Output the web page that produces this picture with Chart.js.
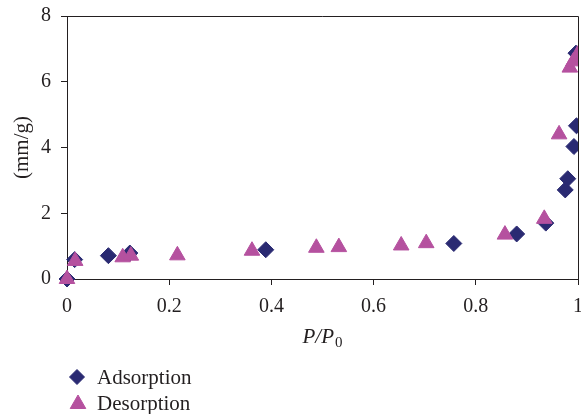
<!DOCTYPE html>
<html>
<head>
<meta charset="utf-8">
<script src="https://cdn.jsdelivr.net/npm/chart.js@4.4.0/dist/chart.umd.min.js"></script>
<style>
  html, body { margin: 0; padding: 0; background: #fff; }
  canvas { display: block; }
</style>
</head>
<body>
<canvas id="chart" width="581" height="414"></canvas>
<script>
// values
const adsorptionX = [0, 0.015, 0.081, 0.123, 0.389, 0.757, 0.880, 0.937, 0.975, 0.980, 0.992, 0.997, 0.996];
const adsorptionY = [0, 0.59, 0.71, 0.79, 0.89, 1.08, 1.37, 1.70, 2.71, 3.05, 4.03, 4.66, 6.87];
const desorptionX = [0, 0.016, 0.109, 0.125, 0.216, 0.362, 0.488, 0.532, 0.654, 0.703, 0.857, 0.934, 0.963, 0.984, 0.991, 0.999];
const desorptionY = [0, 0.55, 0.66, 0.71, 0.72, 0.86, 0.95, 0.97, 1.02, 1.09, 1.35, 1.83, 4.40, 6.43, 6.62, 6.82];
const xTickLabels = ['0', '0.2', '0.4', '0.6', '0.8', '1'];
const seriesNames = ['Adsorption', 'Desorption'];
const xTitle = ['P/P', '0'];
const yTitle = '(mm/g)';

const SERIF = '"Liberation Serif", "Times New Roman", serif';
const INK = '#231f20';
const NAVY = '#2a2a72';
const PINK = '#b5519f';

function toPoints(xs, ys) {
  return xs.map((x, i) => ({ x, y: ys[i] }));
}

function marker(ctx, style, radius, color, x, y) {
  ctx.fillStyle = color;
  ctx.strokeStyle = color;
  Chart.helpers.drawPoint(ctx, { pointStyle: style, radius, borderWidth: 1, rotation: 0 }, x, y);
}

// box frame, x title with subscript and the legend under the chart
const extras = {
  id: 'extras',
  afterDraw(chart) {
    const { ctx, chartArea: a } = chart;
    ctx.save();
    ctx.strokeStyle = INK;
    ctx.lineWidth = 1;
    ctx.beginPath();
    ctx.moveTo(a.left, Math.round(a.top) + 0.5);
    ctx.lineTo(Math.round(a.right) + 0.5, Math.round(a.top) + 0.5);
    ctx.lineTo(Math.round(a.right) + 0.5, a.bottom);
    ctx.stroke();

    ctx.fillStyle = INK;
    ctx.textBaseline = 'alphabetic';
    ctx.font = `italic 21px ${SERIF}`;
    const w1 = ctx.measureText(xTitle[0]).width;
    ctx.font = `15px ${SERIF}`;
    const w2 = ctx.measureText(xTitle[1]).width;
    const cx = (a.left + a.right) / 2;
    const sx = cx - (w1 + w2 + 1) / 2;
    ctx.font = `italic 21px ${SERIF}`;
    ctx.fillText(xTitle[0], sx, 343);
    ctx.font = `15px ${SERIF}`;
    ctx.fillText(xTitle[1], sx + w1 + 1, 347);

    marker(ctx, 'rectRot', 7.5, NAVY, 77, 377);
    marker(ctx, 'triangle', 9, PINK, 78, 404);
    ctx.fillStyle = INK;
    ctx.font = `21px ${SERIF}`;
    ctx.fillText(seriesNames[0], 97, 384);
    ctx.fillText(seriesNames[1], 97, 410);
    ctx.restore();
  }
};

new Chart(document.getElementById('chart'), {
  type: 'scatter',
  data: {
    datasets: [
      {
        label: seriesNames[0],
        data: toPoints(adsorptionX, adsorptionY),
        pointStyle: 'rectRot',
        pointRadius: 8,
        pointBorderWidth: 1,
        backgroundColor: NAVY,
        borderColor: NAVY,
        order: 2,
        clip: { left: false, top: false, right: 0, bottom: false }
      },
      {
        label: seriesNames[1],
        data: toPoints(desorptionX, desorptionY),
        pointStyle: 'triangle',
        pointRadius: 9,
        pointBorderWidth: 1,
        backgroundColor: PINK,
        borderColor: PINK,
        order: 1,
        clip: { left: false, top: false, right: 0, bottom: false }
      }
    ]
  },
  options: {
    responsive: false,
    animation: false,
    layout: { autoPadding: false, padding: { top: 16, right: 3, left: 0, bottom: 0 } },
    plugins: { legend: { display: false }, tooltip: { enabled: false } },
    scales: {
      x: {
        type: 'linear',
        min: 0,
        max: 1,
        ticks: {
          stepSize: 0.2, padding: 10, color: INK, font: { family: SERIF, size: 20 },
          callback: (v, i) => xTickLabels[i]
        },
        grid: { drawOnChartArea: false, drawTicks: true, tickLength: 6, color: INK },
        border: { color: INK, width: 1 },
        afterFit: s => { s.height = 135; s.paddingLeft = 0; s.paddingRight = 0; }
      },
      y: {
        min: 0,
        max: 8,
        ticks: { stepSize: 2, padding: 10, color: INK, font: { family: SERIF, size: 20 } },
        grid: { drawOnChartArea: false, drawTicks: true, tickLength: 6, color: INK },
        border: { color: INK, width: 1 },
        title: { display: true, text: yTitle, color: INK, font: { family: SERIF, size: 21 }, padding: { top: 10, bottom: 0 } },
        afterFit: s => { s.width = 67; s.paddingTop = 0; s.paddingBottom = 0; }
      }
    }
  },
  plugins: [extras]
});
</script>
</body>
</html>
